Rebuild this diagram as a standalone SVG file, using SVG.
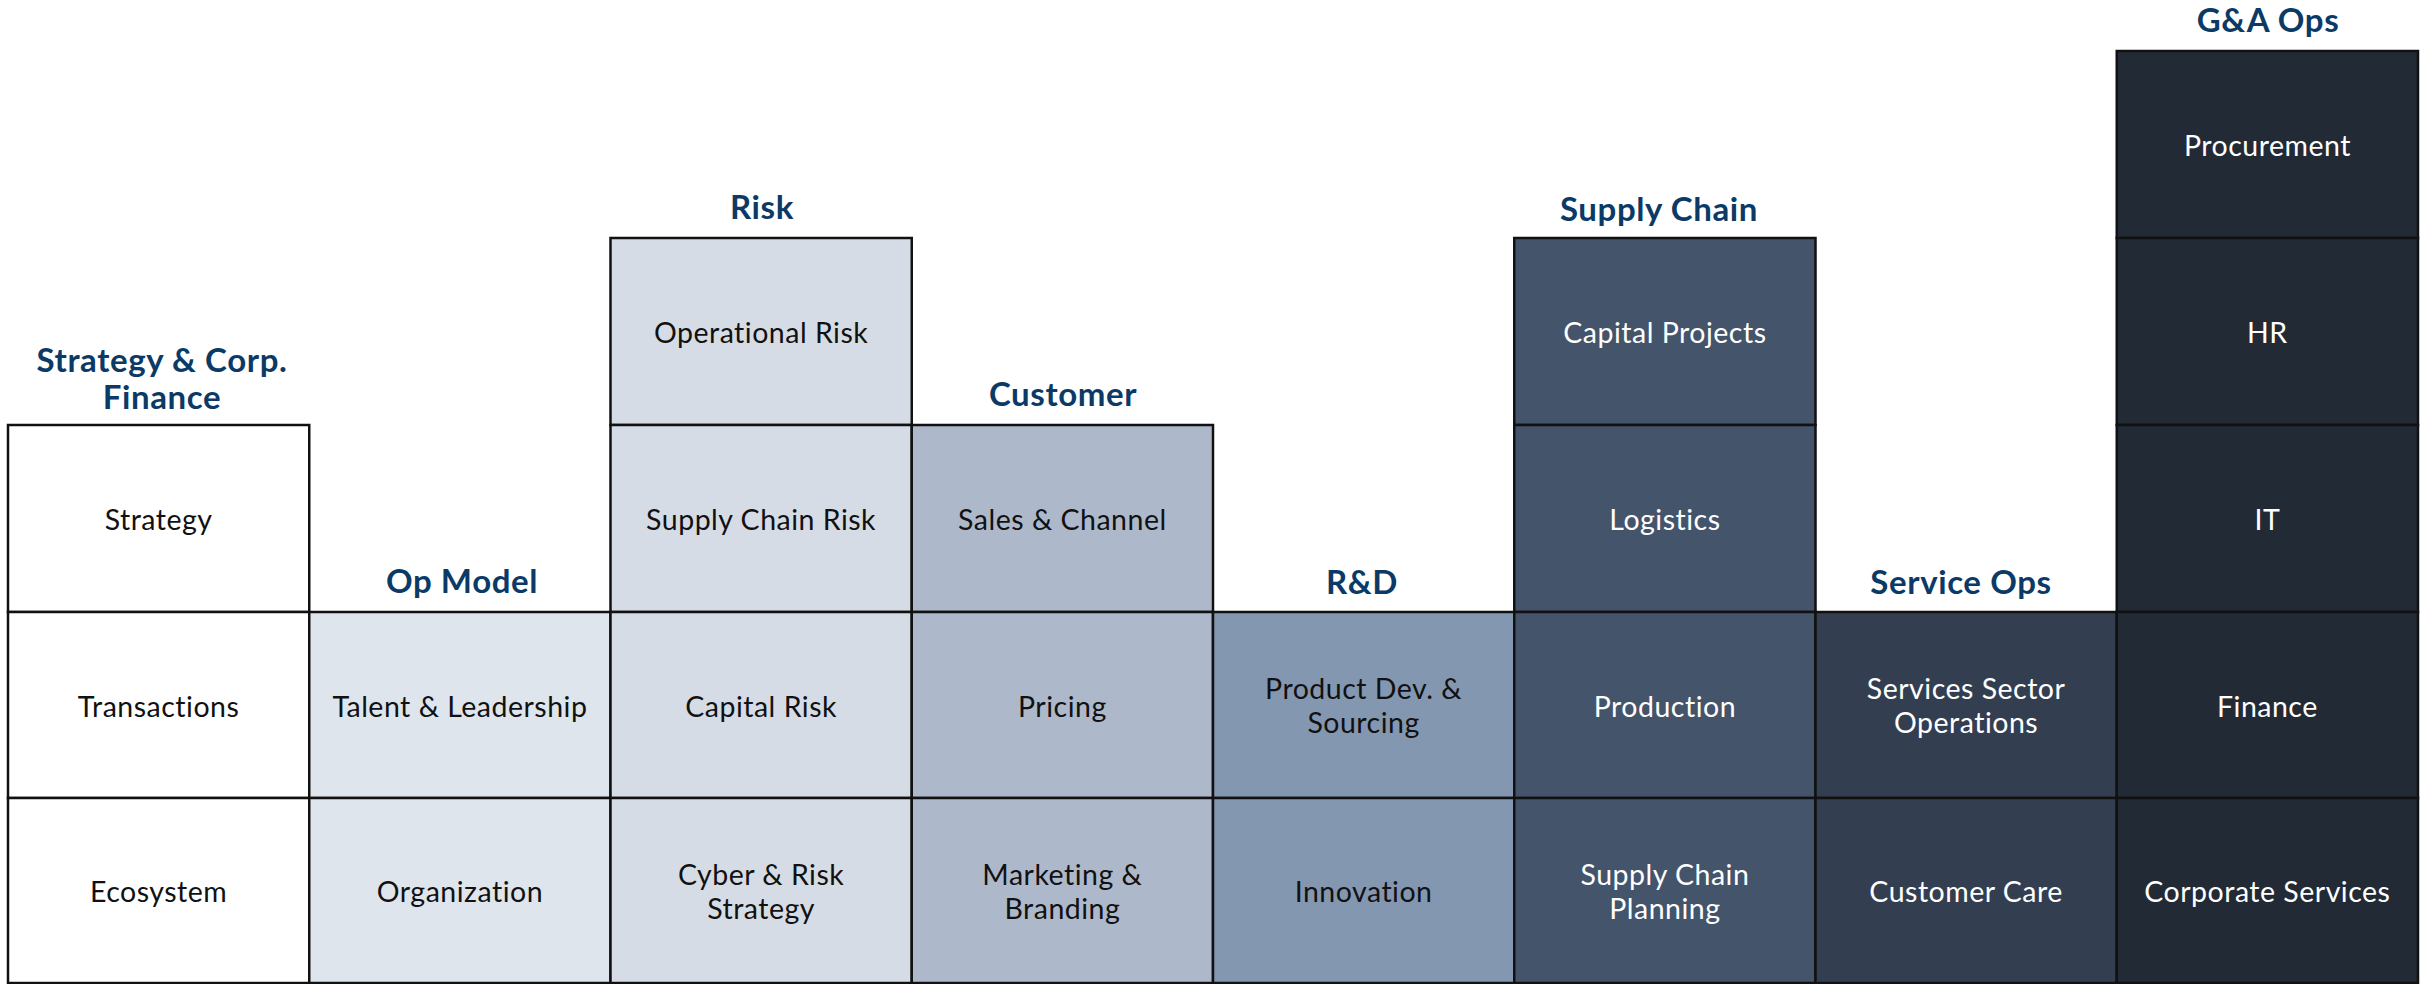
<svg xmlns="http://www.w3.org/2000/svg" width="2425" height="984" viewBox="0 0 2425 984">
<style>
.cell{stroke:#111;stroke-width:2.5}
.hd{font-family:Lato,"Open Sans","Liberation Sans",sans-serif;font-weight:700;font-size:33px;letter-spacing:0.6px;fill:#0c3a66;text-anchor:middle}
.t{font-family:Lato,"Open Sans","Liberation Sans",sans-serif;font-weight:400;font-size:28.5px;letter-spacing:0.5px;text-anchor:middle}
.dk{fill:#111}
.lt{fill:#ffffff}
.c0{fill:#ffffff}.c1{fill:#dfe5ec}.c2{fill:#d6dce5}.c3{fill:#adb9ca}.c4{fill:#8497b0}.c5{fill:#44546a}.c6{fill:#333f50}.c7{fill:#222a35}
</style>
<rect width="2425" height="984" fill="#ffffff"/>
<g id="connectors"/>
<g id="col-strategy">
<text class="hd" x="162" y="372">Strategy &amp; Corp.</text>
<text class="hd" x="162" y="409">Finance</text>
<g id="strategy"><rect class="cell c0" x="8" y="425" width="301.25" height="187"/><text class="t dk" x="158.6" y="530">Strategy</text></g>
<g id="transactions"><rect class="cell c0" x="8" y="612" width="301.25" height="186"/><text class="t dk" x="158.6" y="716.5">Transactions</text></g>
<g id="ecosystem"><rect class="cell c0" x="8" y="798" width="301.25" height="185"/><text class="t dk" x="158.6" y="902">Ecosystem</text></g>
</g>
<g id="col-opmodel">
<text class="hd" x="462" y="593">Op Model</text>
<g id="talent"><rect class="cell c1" x="309.25" y="612" width="301.25" height="186"/><text class="t dk" x="459.9" y="716.5">Talent &amp; Leadership</text></g>
<g id="organization"><rect class="cell c1" x="309.25" y="798" width="301.25" height="185"/><text class="t dk" x="459.9" y="902">Organization</text></g>
</g>
<g id="col-risk">
<text class="hd" x="762" y="219">Risk</text>
<g id="operational-risk"><rect class="cell c2" x="610.5" y="238" width="301.25" height="187"/><text class="t dk" x="761.1" y="343">Operational Risk</text></g>
<g id="supply-chain-risk"><rect class="cell c2" x="610.5" y="425" width="301.25" height="187"/><text class="t dk" x="761.1" y="530">Supply Chain Risk</text></g>
<g id="capital-risk"><rect class="cell c2" x="610.5" y="612" width="301.25" height="186"/><text class="t dk" x="761.1" y="716.5">Capital Risk</text></g>
<g id="cyber-risk"><rect class="cell c2" x="610.5" y="798" width="301.25" height="185"/><text class="t dk" x="761.1" y="885">Cyber &amp; Risk</text><text class="t dk" x="761.1" y="919">Strategy</text></g>
</g>
<g id="col-customer">
<text class="hd" x="1063" y="406">Customer</text>
<g id="sales-channel"><rect class="cell c3" x="911.75" y="425" width="301.25" height="187"/><text class="t dk" x="1062.4" y="530">Sales &amp; Channel</text></g>
<g id="pricing"><rect class="cell c3" x="911.75" y="612" width="301.25" height="186"/><text class="t dk" x="1062.4" y="716.5">Pricing</text></g>
<g id="marketing"><rect class="cell c3" x="911.75" y="798" width="301.25" height="185"/><text class="t dk" x="1062.4" y="885">Marketing &amp;</text><text class="t dk" x="1062.4" y="919">Branding</text></g>
</g>
<g id="col-rd">
<text class="hd" x="1362" y="594">R&amp;D</text>
<g id="product-dev"><rect class="cell c4" x="1213" y="612" width="301.25" height="186"/><text class="t dk" x="1363.6" y="699">Product Dev. &amp;</text><text class="t dk" x="1363.6" y="733">Sourcing</text></g>
<g id="innovation"><rect class="cell c4" x="1213" y="798" width="301.25" height="185"/><text class="t dk" x="1363.6" y="902">Innovation</text></g>
</g>
<g id="col-supplychain">
<text class="hd" x="1659" y="221">Supply Chain</text>
<g id="capital-projects"><rect class="cell c5" x="1514.25" y="238" width="301.25" height="187"/><text class="t lt" x="1664.9" y="343">Capital Projects</text></g>
<g id="logistics"><rect class="cell c5" x="1514.25" y="425" width="301.25" height="187"/><text class="t lt" x="1664.9" y="530">Logistics</text></g>
<g id="production"><rect class="cell c5" x="1514.25" y="612" width="301.25" height="186"/><text class="t lt" x="1664.9" y="716.5">Production</text></g>
<g id="sc-planning"><rect class="cell c5" x="1514.25" y="798" width="301.25" height="185"/><text class="t lt" x="1664.9" y="885">Supply Chain</text><text class="t lt" x="1664.9" y="919">Planning</text></g>
</g>
<g id="col-serviceops">
<text class="hd" x="1961" y="594">Service Ops</text>
<g id="services-sector"><rect class="cell c6" x="1815.5" y="612" width="301.25" height="186"/><text class="t lt" x="1966.1" y="699">Services Sector</text><text class="t lt" x="1966.1" y="733">Operations</text></g>
<g id="customer-care"><rect class="cell c6" x="1815.5" y="798" width="301.25" height="185"/><text class="t lt" x="1966.1" y="902">Customer Care</text></g>
</g>
<g id="col-gaops">
<text class="hd" x="2268" y="32">G&amp;A Ops</text>
<g id="procurement"><rect class="cell c7" x="2116.75" y="51" width="301.25" height="187"/><text class="t lt" x="2267.4" y="156">Procurement</text></g>
<g id="hr"><rect class="cell c7" x="2116.75" y="238" width="301.25" height="187"/><text class="t lt" x="2267.4" y="343">HR</text></g>
<g id="it"><rect class="cell c7" x="2116.75" y="425" width="301.25" height="187"/><text class="t lt" x="2267.4" y="530">IT</text></g>
<g id="finance"><rect class="cell c7" x="2116.75" y="612" width="301.25" height="186"/><text class="t lt" x="2267.4" y="716.5">Finance</text></g>
<g id="corporate-services"><rect class="cell c7" x="2116.75" y="798" width="301.25" height="185"/><text class="t lt" x="2267.4" y="902">Corporate Services</text></g>
</g>
</svg>
